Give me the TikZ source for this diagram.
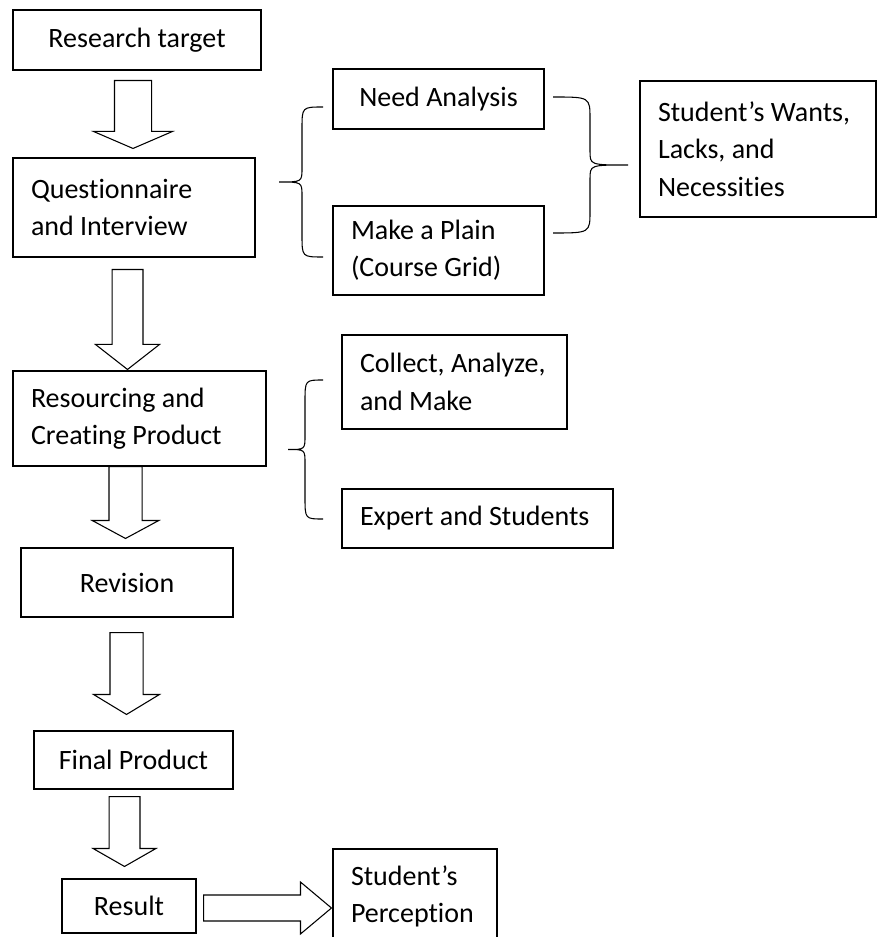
\documentclass[tikz,border=0pt]{standalone}
\usepackage{fontspec}
\setmainfont[Ligatures=NoCommon]{Carlito}
\usetikzlibrary{calc}
\hyphenpenalty=10000

\newcommand{\boxfont}{\fontsize{21}{28}\selectfont}
% hollow block arrow: start, tip, half shaft, half head, head length
\newcommand{\fatarrow}[5]{%
  \coordinate (hb) at ($(#2)!#5!(#1)$);
  \draw[fat] ($(#1)!#3!90:(#2)$) -- ($(hb)!#3!90:(#2)$) -- ($(hb)!#4!90:(#2)$) -- (#2)
    -- ($(hb)!#4!-90:(#2)$) -- ($(hb)!#3!-90:(#2)$) -- ($(#1)!#3!-90:(#2)$) -- cycle;}
% curly bracket: x of ends, x of spine, x of tip, y top, y bottom
\newcommand{\curly}[5]{%
  \draw[curlyline] (#1,#4) .. controls (#2,#4) .. (#2,{#4+22})
    -- (#2,{(#4+#5)/2-14}) .. controls (#2,{(#4+#5)/2}) .. (#3,{(#4+#5)/2})
    .. controls (#2,{(#4+#5)/2}) .. (#2,{(#4+#5)/2+14})
    -- (#2,{#5-22}) .. controls (#2,#5) .. (#1,#5);}

\begin{document}
\begin{tikzpicture}[x=0.75pt,y=-0.75pt,
  box/.style={draw=black,line width=0.8pt,inner sep=0pt,font=\boxfont},
  fat/.style={draw=black,line width=0.8pt,line join=miter},
  curlyline/.style={draw=black,line width=0.8pt}]

\useasboundingbox (0,0) rectangle (877,937);
\clip (0,0) rectangle (877,937);

% main column:
\node[box,minimum width=186pt,minimum height=45pt] (target) at (137,40) {Research target};
\node[box,minimum width=181.5pt,minimum height=74.25pt,text width=154.5pt,align=flush left] (quest) at (134,207.5) {Questionnaire\\and Interview};
\node[box,minimum width=189.75pt,minimum height=71.25pt,text width=162.75pt,align=flush left] (resource) at (139.5,418.5) {Resourcing and\\Creating Product};
\node[box,minimum width=159pt,minimum height=51.75pt] (revision) at (127,582.5) {Revision};
\node[box,minimum width=149.25pt,minimum height=43.5pt] (final) at (133.5,760) {Final Product};
\node[box,minimum width=100.5pt,minimum height=40.5pt] (result) at (129,906) {Result};

% side boxes:
\node[box,minimum width=158.25pt,minimum height=45pt] (need) at (438.5,99) {Need Analysis};
\node[box,minimum width=158.25pt,minimum height=66.75pt,text width=131.25pt,align=flush left] (plan) at (438.5,250.5) {Make a Plain\\(Course Grid)};
\node[box,minimum width=177pt,minimum height=102pt,text width=150pt,align=flush left] (wants) at (758,149) {Student’s Wants,\\Lacks, and\\Necessities};
\node[box,minimum width=168.75pt,minimum height=70.5pt,text width=141.75pt,align=flush left] (collect) at (454.5,382) {Collect, Analyze,\\and Make};
\node[box,minimum width=203.25pt,minimum height=44.25pt,text width=176.25pt,align=flush left] (expert) at (477.5,518.5) {Expert and Students};
\node[box,minimum width=123pt,minimum height=71.25pt,text width=96pt,align=flush left] (percept) at (415,896.5) {Student’s\\Perception};

% block arrows:
\coordinate (a1s) at ($(target.south)+(-4,10)$);
\coordinate (a1t) at ($(quest.north)+(-1,-9)$);
\coordinate (a2s) at ($(quest.south)+(-6.5,12)$);
\coordinate (a2t) at ($(resource.north)+(-12,-1)$);
\coordinate (a3s) at ($(resource.south)+(-14,0)$);
\coordinate (a3t) at ($(revision.north)+(-1.5,-9)$);
\coordinate (a4s) at ($(revision.south)+(-0.5,15)$);
\coordinate (a4t) at ($(final.north)+(-7,-16)$);
\coordinate (a5s) at ($(final.south)+(-9,7)$);
\coordinate (a5t) at ($(result.north)+(-4.5,-12)$);
\coordinate (a6s) at ($(result.east)+(7,2)$);
\coordinate (a6t) at ($(percept.west)+(-1,11.5)$);
\fatarrow{a1s}{a1t}{13.9pt}{29.6pt}{12.75pt}
\fatarrow{a2s}{a2t}{11.6pt}{24pt}{18.75pt}
\fatarrow{a3s}{a3t}{12.4pt}{25pt}{13.5pt}
\fatarrow{a4s}{a4t}{12.4pt}{24.75pt}{15pt}
\fatarrow{a5s}{a5t}{11.6pt}{23.6pt}{13.5pt}
\fatarrow{a6s}{a6t}{9.75pt}{19.5pt}{23.25pt}

% brackets:
\curly{323}{302}{279}{107}{257}
\curly{553}{590}{628}{97}{233}
\curly{323}{305}{288}{380}{519}

\end{tikzpicture}
\end{document}
